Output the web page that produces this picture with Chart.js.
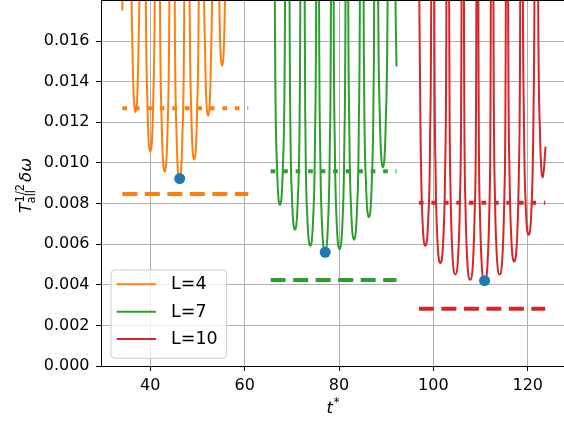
<!DOCTYPE html>
<html><head><meta charset="utf-8">
<script src="https://cdn.jsdelivr.net/npm/chart.js@4.4.1/dist/chart.umd.min.js"></script>
<style>html,body{margin:0;padding:0;background:#fff;overflow:hidden}canvas{display:block}</style>
</head><body>
<canvas id="c" width="564" height="421"></canvas>
<script>
// ---- data ----
const seriesLabels = ['L=4', 'L=7', 'L=10'];
const seriesColors = ['#ff7f0e', '#2ca02c', '#d62728'];

// L=4 curve (t*, value); values above ~0.018 are off the top of the plot
const tL4 = [34.07, 34.40, 35.31,
  35.56, 35.87, 36.24, 36.86, 37.48, 37.85, 38.16, 38.43,
  38.70, 39.01, 39.38, 40.00, 40.62, 40.99, 41.30, 41.53,
  41.75, 42.06, 42.43, 43.05, 43.67, 44.04, 44.35, 44.62,
  44.89, 45.20, 45.57, 46.19, 46.81, 47.18, 47.49, 47.75,
  48.00, 48.31, 48.68, 49.30, 49.92, 50.29, 50.60, 50.78,
  50.95, 51.26, 51.63, 52.25, 52.87, 53.24, 53.55, 53.74,
  53.92, 54.23, 54.60, 55.22, 55.84, 56.21, 56.52];
const vL4 = [0.0175, 0.0300, 0.08,
  0.0502, 0.0233, 0.01544, 0.01249, 0.01544, 0.0233, 0.0502, 0.08,
  0.0424, 0.01969, 0.01304, 0.01055, 0.01304, 0.01969, 0.0424, 0.08,
  0.0385, 0.01786, 0.01183, 0.00957, 0.01183, 0.01786, 0.0385, 0.08,
  0.0370, 0.01717, 0.01137, 0.0092, 0.01137, 0.01717, 0.0370, 0.08,
  0.0408, 0.01896, 0.01256, 0.01016, 0.01256, 0.01896, 0.0408, 0.08,
  0.0495, 0.02299, 0.01523, 0.01232, 0.01523, 0.02299, 0.0495, 0.08,
  0.0594, 0.02758, 0.01827, 0.01478, 0.01827, 0.02758, 0.0594];

// L=7 curve
const tL7 = [65.51, 65.92,
  66.17, 66.48, 66.86, 67.48, 68.10, 68.48, 68.79, 69.07,
  69.35, 69.66, 70.04, 70.66, 71.28, 71.66, 71.97, 72.28,
  72.60, 72.91, 73.29, 73.91, 74.53, 74.91, 75.22, 75.47,
  75.72, 76.03, 76.41, 77.03, 77.65, 78.03, 78.34, 78.58,
  78.81, 79.12, 79.50, 80.12, 80.74, 81.12, 81.43, 81.66,
  81.88, 82.19, 82.57, 83.19, 83.81, 84.19, 84.50, 84.76,
  85.02, 85.33, 85.71, 86.33, 86.95, 87.33, 87.64, 87.82,
  87.99, 88.30, 88.68, 89.30, 89.92, 90.30, 90.61, 90.86,
  91.45, 91.98, 92.20];
const vL7 = [0.05, 0.08,
  0.0319, 0.0148, 0.0098, 0.00793, 0.0098, 0.0148, 0.0319, 0.08,
  0.0270, 0.01252, 0.00829, 0.00671, 0.00829, 0.01252, 0.0270, 0.08,
  0.0238, 0.01105, 0.00732, 0.00592, 0.00732, 0.01105, 0.0238, 0.08,
  0.0225, 0.01045, 0.00692, 0.0056, 0.00692, 0.01045, 0.0225, 0.08,
  0.0231, 0.01073, 0.00711, 0.00575, 0.00711, 0.01073, 0.0231, 0.08,
  0.0250, 0.01161, 0.00769, 0.00622, 0.00769, 0.01161, 0.0250, 0.08,
  0.0294, 0.01366, 0.00905, 0.00732, 0.00905, 0.01366, 0.0294, 0.08,
  0.0393, 0.01825, 0.01209, 0.00978, 0.01209, 0.01825, 0.0393, 0.08,
  0.040, 0.0180, 0.01474];

// L=10 curve
const tL10 = [96.93, 97.30, 97.67, 98.30, 98.93, 99.30, 99.61, 99.89,
  100.17, 100.48, 100.85, 101.48, 102.11, 102.48, 102.79, 103.07,
  103.35, 103.66, 104.03, 104.66, 105.29, 105.66, 105.97, 106.23,
  106.49, 106.80, 107.17, 107.80, 108.43, 108.80, 109.11, 109.33,
  109.55, 109.86, 110.23, 110.86, 111.49, 111.86, 112.17, 112.46,
  112.74, 113.05, 113.42, 114.05, 114.68, 115.05, 115.36, 115.59,
  115.82, 116.13, 116.50, 117.13, 117.76, 118.13, 118.44, 118.67,
  118.89, 119.20, 119.57, 120.20, 120.83, 121.20, 121.51, 121.72,
  121.92, 122.23, 122.60, 123.23, 123.77];
const vL10 = [0.0205, 0.01105, 0.00732, 0.00592, 0.00732, 0.01105, 0.0238, 0.08,
  0.0204, 0.00946, 0.00627, 0.00507, 0.00627, 0.00946, 0.0204, 0.08,
  0.0181, 0.00842, 0.00557, 0.00451, 0.00557, 0.00842, 0.0181, 0.08,
  0.0171, 0.00793, 0.00525, 0.00425, 0.00525, 0.00793, 0.0171, 0.08,
  0.0165, 0.00765, 0.00507, 0.0041, 0.00507, 0.00765, 0.0165, 0.08,
  0.0181, 0.0084, 0.00556, 0.0045, 0.00556, 0.0084, 0.0181, 0.08,
  0.0207, 0.00961, 0.00637, 0.00515, 0.00637, 0.00961, 0.0207, 0.08,
  0.0260, 0.01205, 0.00798, 0.00646, 0.00798, 0.01205, 0.0260, 0.08,
  0.0373, 0.01732, 0.01147, 0.00928, 0.0108];

// horizontal reference levels and their t* spans
const spanStart = [34.07, 65.51, 96.93];
const spanEnd = [60.76, 92.20, 123.70];
const dottedLevel = [0.01269, 0.00959, 0.00804];
const dashedLevel = [0.00847, 0.00423, 0.00282];

// marked minima
const minT = [46.23, 77.07, 110.85];
const minV = [0.00923, 0.0056, 0.0042];

// axis ticks
const xTickValues = [40, 60, 80, 100, 120];
const yTickValues = [0, 0.002, 0.004, 0.006, 0.008, 0.010, 0.012, 0.014, 0.016];

// ---- chart ----
const curveT = [tL4, tL7, tL10];
const curveV = [vL4, vL7, vL10];
const datasets = [];
datasets.push({
  label: 'minima',
  data: minT.map((x, i) => ({x, y: minV[i]})),
  showLine: false, pointRadius: 5.5, pointHoverRadius: 5.5,
  pointBackgroundColor: '#1f77b4', pointBorderWidth: 0, borderColor: '#1f77b4',
  order: 0
});
for (let i = 0; i < 3; i++) {
  datasets.push({
    label: seriesLabels[i] + ' dotted',
    data: [{x: spanStart[i], y: dottedLevel[i]}, {x: spanEnd[i], y: dottedLevel[i]}],
    borderColor: seriesColors[i], borderWidth: 4, borderDash: [4.7, 7.8],
    borderCapStyle: 'butt', pointRadius: 0, order: 1
  });
  datasets.push({
    label: seriesLabels[i] + ' dashed',
    data: [{x: spanStart[i], y: dashedLevel[i]}, {x: spanEnd[i], y: dashedLevel[i]}],
    borderColor: seriesColors[i], borderWidth: 4, borderDash: [15, 7.5],
    borderCapStyle: 'butt', pointRadius: 0, order: 1
  });
  datasets.push({
    label: seriesLabels[i],
    data: curveT[i].map((x, j) => ({x, y: curveV[i][j]})),
    borderColor: seriesColors[i], borderWidth: 2, pointRadius: 0,
    cubicInterpolationMode: 'monotone', order: 2
  });
}

const FONT = '"DejaVu Sans", sans-serif';

const decor = {
  id: 'decor',
  afterDatasetsDraw(chart) {
    const ctx = chart.ctx;
    ctx.save();
    // legend box
    const lx = 111, ly = 270, lw = 115.7, lh = 88.3, r = 4;
    ctx.beginPath();
    ctx.moveTo(lx + r, ly);
    ctx.lineTo(lx + lw - r, ly); ctx.arcTo(lx + lw, ly, lx + lw, ly + r, r);
    ctx.lineTo(lx + lw, ly + lh - r); ctx.arcTo(lx + lw, ly + lh, lx + lw - r, ly + lh, r);
    ctx.lineTo(lx + r, ly + lh); ctx.arcTo(lx, ly + lh, lx, ly + lh - r, r);
    ctx.lineTo(lx, ly + r); ctx.arcTo(lx, ly, lx + r, ly, r);
    ctx.closePath();
    ctx.fillStyle = 'rgba(255,255,255,0.8)';
    ctx.fill();
    ctx.strokeStyle = '#cccccc'; ctx.lineWidth = 1; ctx.stroke();
    const rows = [284.3, 311.7, 339];
    ctx.font = '17.5px ' + FONT;
    ctx.textBaseline = 'middle'; ctx.textAlign = 'left';
    for (let i = 0; i < 3; i++) {
      ctx.strokeStyle = seriesColors[i]; ctx.lineWidth = 2;
      ctx.beginPath(); ctx.moveTo(116.7, rows[i]); ctx.lineTo(156, rows[i]); ctx.stroke();
      ctx.fillStyle = '#000';
      ctx.fillText(seriesLabels[i], 171, rows[i] + 0.5);
    }
    ctx.restore();
  },
  afterDraw(chart) {
    const ctx = chart.ctx, a = chart.chartArea;
    ctx.save();
    // top spine
    ctx.strokeStyle = '#000'; ctx.lineWidth = 1;
    ctx.beginPath(); ctx.moveTo(a.left, a.top - 0.5); ctx.lineTo(a.right, a.top - 0.5); ctx.stroke();
    ctx.fillStyle = '#000'; ctx.textAlign = 'left'; ctx.textBaseline = 'alphabetic';
    // x title: t*
    ctx.font = 'italic 16.5px ' + FONT;
    const wt = ctx.measureText('t').width;
    ctx.font = '11.5px ' + FONT;
    const ws = ctx.measureText('*').width;
    const x0 = 333 - (wt + ws + 1) / 2;
    ctx.font = 'italic 16.5px ' + FONT;
    ctx.fillText('t', x0, 413);
    ctx.font = '11.5px ' + FONT;
    ctx.fillText('*', x0 + wt + 1, 406);
    // y title
    ctx.translate(31, 213);
    ctx.rotate(-Math.PI / 2);
    ctx.font = 'italic 16.5px ' + FONT;
    ctx.fillText('T', 0, 0);
    let x = ctx.measureText('T').width;
    ctx.font = '11.5px ' + FONT;
    ctx.fillText('all', x - 0.5, 3.5);
    const wa = ctx.measureText('all').width;
    ctx.fillText('1/2', x + 0.5, -7.5);
    const wh = ctx.measureText('1/2').width + 1;
    x += Math.max(wa, wh) + 1.5;
    ctx.font = 'italic 16.5px ' + FONT;
    ctx.fillText('δω', x, 0);
    ctx.restore();
  }
};

function noPad(s) { s.paddingTop = 0; s.paddingBottom = 0; s.paddingLeft = 0; s.paddingRight = 0; }

new Chart(document.getElementById('c'), {
  type: 'line',
  data: {datasets},
  options: {
    responsive: false, animation: false, devicePixelRatio: 1, events: [],
    layout: {autoPadding: false, padding: {top: 1, left: 0, right: 0, bottom: 0}},
    plugins: {legend: {display: false}, tooltip: {enabled: false}},
    scales: {
      x: {
        type: 'linear', min: 29.55, max: 127.69,
        afterBuildTicks: s => { s.ticks = xTickValues.map(v => ({value: v})); },
        afterFit: s => { s.height = 55; noPad(s); },
        grid: {color: '#b0b0b0', lineWidth: 1, tickColor: '#000', tickLength: 5, tickWidth: 1},
        border: {display: true, color: '#000', width: 1},
        ticks: {font: {family: FONT, size: 16}, color: '#000', padding: 5, maxRotation: 0, autoSkip: false,
          callback: v => String(v)}
      },
      y: {
        type: 'linear', min: 0, max: 0.01797,
        afterBuildTicks: s => { s.ticks = yTickValues.map(v => ({value: v})); },
        afterFit: s => { s.width = 101; noPad(s); },
        grid: {color: '#b0b0b0', lineWidth: 1, tickColor: '#000', tickLength: 5, tickWidth: 1},
        border: {display: true, color: '#000', width: 1},
        ticks: {font: {family: FONT, size: 16}, color: '#000', padding: 6.5, autoSkip: false,
          callback: v => Number(v).toFixed(3)}
      }
    }
  },
  plugins: [decor]
});
</script>
</body></html>
